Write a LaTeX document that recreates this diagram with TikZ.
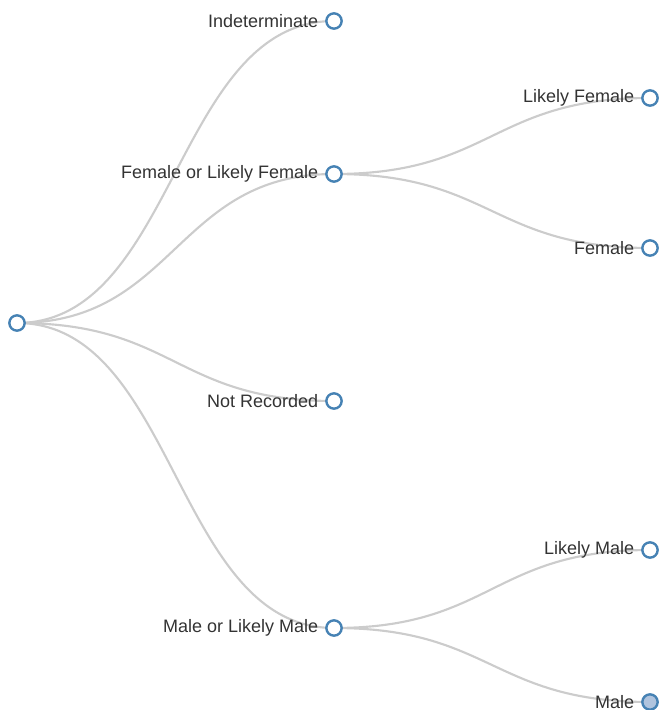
\documentclass[tikz,border=0pt]{standalone}
\usepackage{fontspec}
\setmainfont{Liberation Sans}
\usepackage{tikz}
\usetikzlibrary{calc}
\usetikzlibrary{backgrounds}

\definecolor{nodeblue}{HTML}{4682B4}
\definecolor{nodefill}{HTML}{B0C4DE}
\definecolor{linkgray}{HTML}{CCCCCC}
\definecolor{textgray}{HTML}{333333}

% link between two nodes, with both control points half way across
\newcommand{\treelink}[2]{\draw[edge] let \p1=(#1), \p2=(#2) in (#1.center) .. controls (\x1/2+\x2/2,\y1) and (\x1/2+\x2/2,\y2) .. (#2.center);}

\begin{document}
\begin{tikzpicture}[x=0.75pt,y=-0.75pt]
				\tikzset{vertex/.style = {shape=circle,draw=nodeblue,fill=white,line width=1.8pt,
						minimum size=11.5pt, inner sep = 0pt}}
				\tikzset{vertexShut/.style = {vertex,fill=nodefill}}
				\tikzset{tag/.style = {label={[text=textgray,font=\fontsize{13.5}{15}\selectfont,
						label distance=5pt,inner sep=0pt]left:#1}}}
				\tikzset{edge/.style = {draw=linkgray,line width=1.6pt}}
				
				\useasboundingbox (0,0) rectangle (658,710);
				
				% vertices
				\node[vertex] (root) at (17,323) {};
				\node[vertex,tag=Indeterminate] (indet) at (334,21) {};
				\node[vertex,tag=Female or Likely Female] (fem) at (334,174) {};
				\node[vertex,tag=Not Recorded] (notrec) at (334,401) {};
				\node[vertex,tag=Male or Likely Male] (male) at (334,628) {};
				\node[vertex,tag=Likely Female] (likfem) at (650,98) {};
				\node[vertex,tag=Female] (female) at (650,248) {};
				\node[vertex,tag=Likely Male] (likmale) at (650,550) {};
				\node[vertexShut,tag=Male] (mmale) at (650,702) {};
				
				%edges
				\begin{scope}[on background layer]
				\treelink{root}{indet}
				\treelink{root}{fem}
				\treelink{root}{notrec}
				\treelink{root}{male}
				\treelink{fem}{likfem}
				\treelink{fem}{female}
				\treelink{male}{likmale}
				\treelink{male}{mmale}
				\end{scope}
				
\end{tikzpicture}
\end{document}
